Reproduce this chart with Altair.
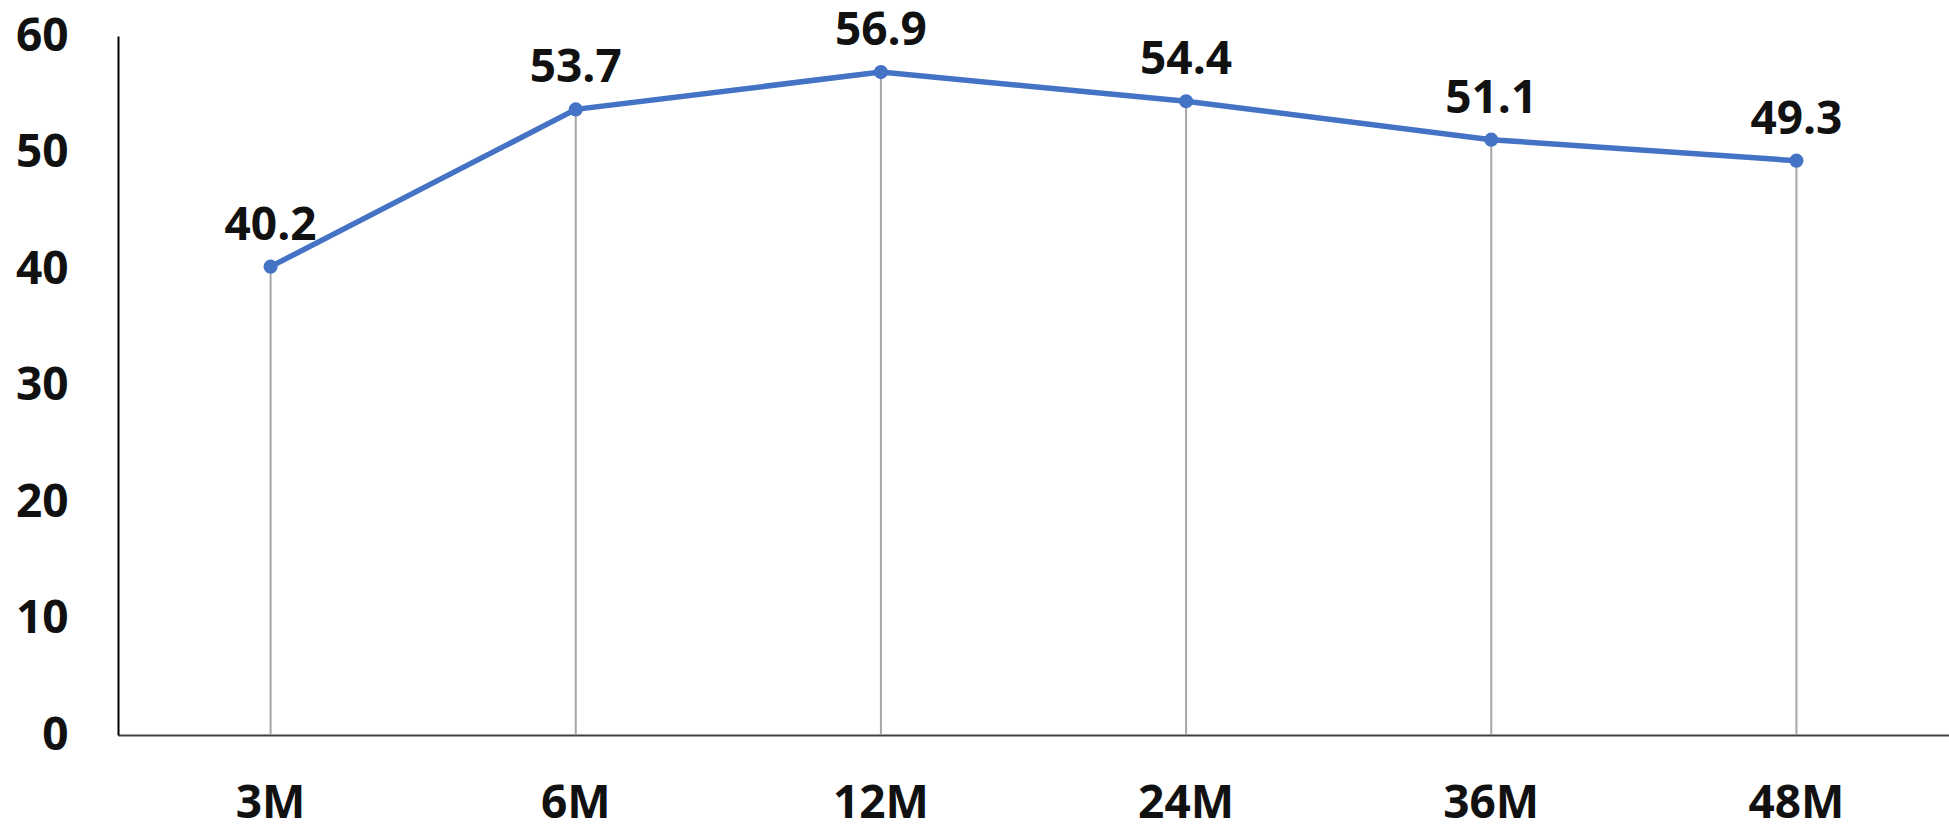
import altair as alt
import pandas as pd

categories = ["3M", "6M", "12M", "24M", "36M", "48M"]
values = [40.2, 53.7, 56.9, 54.4, 51.1, 49.3]
labels = ["40.2", "53.7", "56.9", "54.4", "51.1", "49.3"]

df = pd.DataFrame({"cat": categories, "val": values, "lab": labels})

FONT = "Open Sans"
BLUE = "#4472C4"
FS = 46

x_enc = alt.X(
    "cat:N",
    sort=categories,
    scale=alt.Scale(paddingInner=0, paddingOuter=0),
    axis=alt.Axis(
        title=None, labelAngle=0, ticks=False, grid=False,
        domainColor="#404040", domainWidth=2,
        labelFont=FONT, labelFontSize=FS, labelFontWeight="bold",
        labelColor="#111111", labelPadding=46,
    ),
)
y_enc = alt.Y(
    "val:Q",
    scale=alt.Scale(domain=[0, 60], nice=False),
    axis=alt.Axis(
        title=None, values=[0, 10, 20, 30, 40, 50, 60], ticks=False, grid=False,
        domainColor="#000000", domainWidth=2,
        labelFont=FONT, labelFontSize=FS, labelFontWeight="bold",
        labelColor="#111111", labelPadding=50,
    ),
)

base = alt.Chart(df)

drops = base.mark_rule(color="#A6A6A6", strokeWidth=2).encode(
    x=x_enc, y=y_enc, y2=alt.datum(0)
)
line = base.mark_line(color=BLUE, strokeWidth=5.5).encode(x=x_enc, y=y_enc)
pts = base.mark_point(filled=True, size=200, color=BLUE, opacity=1).encode(
    x=x_enc, y=y_enc
)
txt = base.mark_text(
    font=FONT, fontSize=FS, fontWeight="bold", color="#111111",
    baseline="alphabetic", dy=-27,
).encode(x=x_enc, y=y_enc, text="lab:N")

chart = (
    alt.layer(drops, line, pts, txt)
    .properties(
        width=1831, height=699,
        background="white",
        autosize=alt.AutoSizeParams(type="none"),
        padding={"left": 118, "top": 36, "right": 0, "bottom": 91},
    )
    .configure_view(strokeWidth=0, stroke=None)
    .configure_axis(grid=False)
)

chart.save("out.html", embed_options={"renderer": "svg", "actions": False})
